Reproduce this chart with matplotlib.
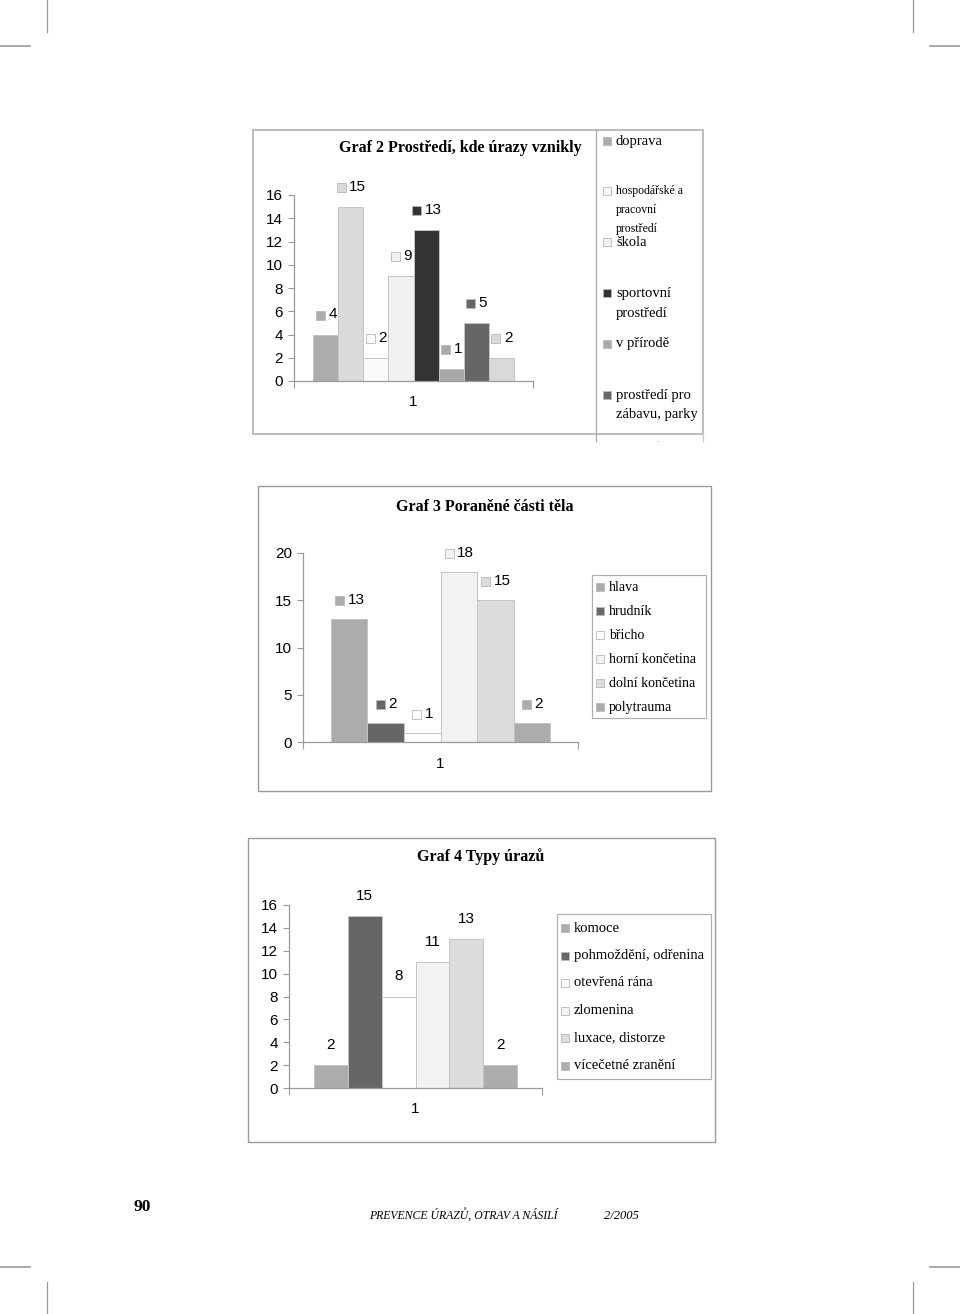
import numpy as np
import matplotlib
matplotlib.use("Agg")
import matplotlib.pyplot as plt
from matplotlib.patches import Rectangle
from matplotlib.lines import Line2D
from matplotlib.transforms import ScaledTranslation

W, H = 960, 1314
SANS = "Liberation Sans"
SERIF = "Liberation Serif"

# Graf 2 - prostredi, kde urazy vznikly (8 sloupcu, legenda ukazuje jen 6)
g2_values = [4, 15, 2, 9, 13, 1, 5, 2]
g2_colors = ["#acacac", "#dadada", "#fafafa", "#f1f1f1", "#333333", "#a9a9a9", "#666666", "#d9d9d9"]
g2_legend = ["doprava", "hospodářské a\npracovní\nprostředí", "škola",
             "sportovní\nprostředí", "v přírodě", "prostředí pro\nzábavu, parky"]
g2_legend_idx = [0, 2, 3, 4, 5, 6]
g2_yticks = [0, 2, 4, 6, 8, 10, 12, 14, 16]

# Graf 3 - poranene casti tela
g3_labels = ["hlava", "hrudník", "břicho", "horní končetina", "dolní končetina", "polytrauma"]
g3_values = [13, 2, 1, 18, 15, 2]
g3_colors = ["#acacac", "#666666", "#ffffff", "#f2f2f2", "#dcdcdc", "#acacac"]
g3_yticks = [0, 5, 10, 15, 20]

# Graf 4 - typy urazu
g4_labels = ["komoce", "pohmoždění, odřenina", "otevřená rána", "zlomenina",
             "luxace, distorze", "vícečetné zranění"]
g4_values = [2, 15, 8, 11, 13, 2]
g4_colors = ["#acacac", "#666666", "#ffffff", "#f2f2f2", "#dcdcdc", "#acacac"]
g4_yticks = [0, 2, 4, 6, 8, 10, 12, 14, 16]

category = "1"

fig = plt.figure(figsize=(W / 100, H / 100), dpi=100)
fig.patch.set_facecolor("white")


def fx(x): return x / W
def fy(y): return 1 - y / H


def frame(x0, y0, x1, y1, color="#9a9a9a", lw=1.0):
    fig.add_artist(Rectangle((fx(x0), fy(y1)), (x1 - x0) / W, (y1 - y0) / H,
                             transform=fig.transFigure, fill=False, ec=color, lw=lw))


def line(x0, y0, x1, y1, color="#9a9a9a", lw=1.0):
    fig.add_artist(Line2D([fx(x0), fx(x1)], [fy(y0), fy(y1)], transform=fig.transFigure,
                          color=color, lw=lw))


def bar_axes(x0, y0, x1, y1, values, colors, yticks, pad, key=True, lab_dy=20):
    ax = fig.add_axes([fx(x0), fy(y1), (x1 - x0) / W, (y1 - y0) / H])
    n = len(values)
    xs = np.arange(n)
    ax.bar(xs, values, width=1.0, color=colors, edgecolor="#c4c4c4", lw=0.7, zorder=2)
    ax.set_xlim(-0.5 - pad, n - 0.5 + pad)
    ax.set_ylim(yticks[0], yticks[-1])
    ax.set_facecolor("none")
    for s in ["top", "right"]:
        ax.spines[s].set_visible(False)
    for s in ["left", "bottom"]:
        ax.spines[s].set_color("#9a9a9a")
        ax.spines[s].set_linewidth(0.9)
    ax.set_yticks(yticks)
    ax.tick_params(axis="y", length=4, width=0.8, color="#9a9a9a", pad=4, labelsize=11)
    ax.set_xticks([-0.5 - pad, n - 0.5 + pad])
    ax.set_xticklabels(["", ""])
    ax.tick_params(axis="x", length=5, width=0.8, color="#9a9a9a")
    for t in ax.get_yticklabels():
        t.set_fontfamily(SANS)
    ax.text((n - 1) / 2, -0.115, category, transform=ax.get_xaxis_transform(),
            ha="center", va="center", fontsize=11, family=SANS)
    for x, v, c in zip(xs, values, colors):
        s = str(v)
        if key:
            tw = 7.9 * len(s)
            sq, gap = 9, 4
            left = -(sq + gap + tw) / 2
            tr = ax.transData + ScaledTranslation((left + sq / 2) / 100, lab_dy / 100,
                                                  fig.dpi_scale_trans)
            ax.plot([x], [v], marker="s", ms=sq * 0.72, mfc=c, mec="#b8b8b8", mew=0.6,
                    transform=tr, clip_on=False, zorder=3)
            ax.annotate(s, (x, v), xytext=(left + sq + gap, lab_dy), textcoords="offset pixels",
                        ha="left", va="center", fontsize=11, family=SANS, annotation_clip=False)
        else:
            ax.annotate(s, (x, v), xytext=(0, lab_dy), textcoords="offset pixels",
                        ha="center", va="center", fontsize=11, family=SANS, annotation_clip=False)
    return ax


def legend_key(x, y, c, size=8):
    fig.add_artist(Rectangle((fx(x - size / 2), fy(y + size / 2)), size / W, size / H,
                             transform=fig.transFigure, fc=c, ec="#b8b8b8", lw=0.6))


# ---------- Graf 2 ----------
frame(253, 130, 703, 434, color="#bdbdbd", lw=1.4)
line(596, 130, 596, 441, color="#aaaaaa", lw=0.9)
line(703, 434, 703, 441, color="#cccccc", lw=0.9)
fig.text(fx(657), fy(440), ".", ha="center", va="center", fontsize=5, color="#777")
fig.text(fx(460), fy(148), "Graf 2 Prostředí, kde úrazy vznikly", ha="center", va="center",
         fontsize=11.5, weight="bold", family=SERIF)
bar_axes(294, 195, 533, 381, g2_values, g2_colors, g2_yticks, pad=0.76)

g2_rows = [(141, 20, 10.5), (191, 19, 8.5), (242, 20, 10.5), (293, 21, 10.5),
           (344, 20, 10.5), (395, 20, 10.5)]
for lab, idx, (y, pitch, fs) in zip(g2_legend, g2_legend_idx, g2_rows):
    legend_key(607, y, g2_colors[idx])
    for k, part in enumerate(lab.split("\n")):
        fig.text(fx(616), fy(y + k * pitch), part, ha="left", va="center",
                 fontsize=fs, family=SERIF)

# ---------- Graf 3 ----------
frame(258, 486, 711, 791)
fig.text(fx(485), fy(507), "Graf 3 Poraněné části těla", ha="center", va="center",
         fontsize=11.5, weight="bold", family=SERIF)
bar_axes(303, 553, 578, 742, g3_values, g3_colors, g3_yticks, pad=0.767, lab_dy=19)
frame(592, 575, 706, 718, color="#b0b0b0", lw=0.9)
for i, (lab, c) in enumerate(zip(g3_labels, g3_colors)):
    y = 587 + i * 24
    legend_key(600, y, c)
    fig.text(fx(609), fy(y), lab, ha="left", va="center", fontsize=10, family=SERIF)

# ---------- Graf 4 ----------
frame(248, 838, 715, 1142)
fig.text(fx(481), fy(857), "Graf 4 Typy úrazů", ha="center", va="center",
         fontsize=11.5, weight="bold", family=SERIF)
bar_axes(289, 905, 542, 1088, g4_values, g4_colors, g4_yticks, pad=0.74, key=False)
frame(557, 914, 711, 1079, color="#b0b0b0", lw=0.9)
for i, (lab, c) in enumerate(zip(g4_labels, g4_colors)):
    y = 928 + i * 27.5
    legend_key(565, y, c)
    fig.text(fx(574), fy(y), lab, ha="left", va="center", fontsize=10.5, family=SERIF)

# ---------- paticka ----------
fig.text(fx(142), fy(1207), "90", ha="center", va="center", fontsize=12.5, weight="bold",
         family=SERIF)
fig.text(fx(369), fy(1216), "PREVENCE ÚRAZŮ, OTRAV A NÁSILÍ", ha="left", va="center",
         fontsize=8.5, style="italic", family=SERIF)
fig.text(fx(604), fy(1216), "2/2005", ha="left", va="center", fontsize=9, style="italic",
         family=SERIF)

# orezove znacky
for x in (47, 913):
    line(x, 0, x, 32, color="#999999", lw=0.9)
    line(x, 1282, x, 1314, color="#999999", lw=0.9)
for y in (46, 1267):
    line(0, y, 30, y, color="#999999", lw=1.2)
    line(930, y, 960, y, color="#999999", lw=1.2)

fig.savefig("out.png", dpi=100, facecolor="white")
